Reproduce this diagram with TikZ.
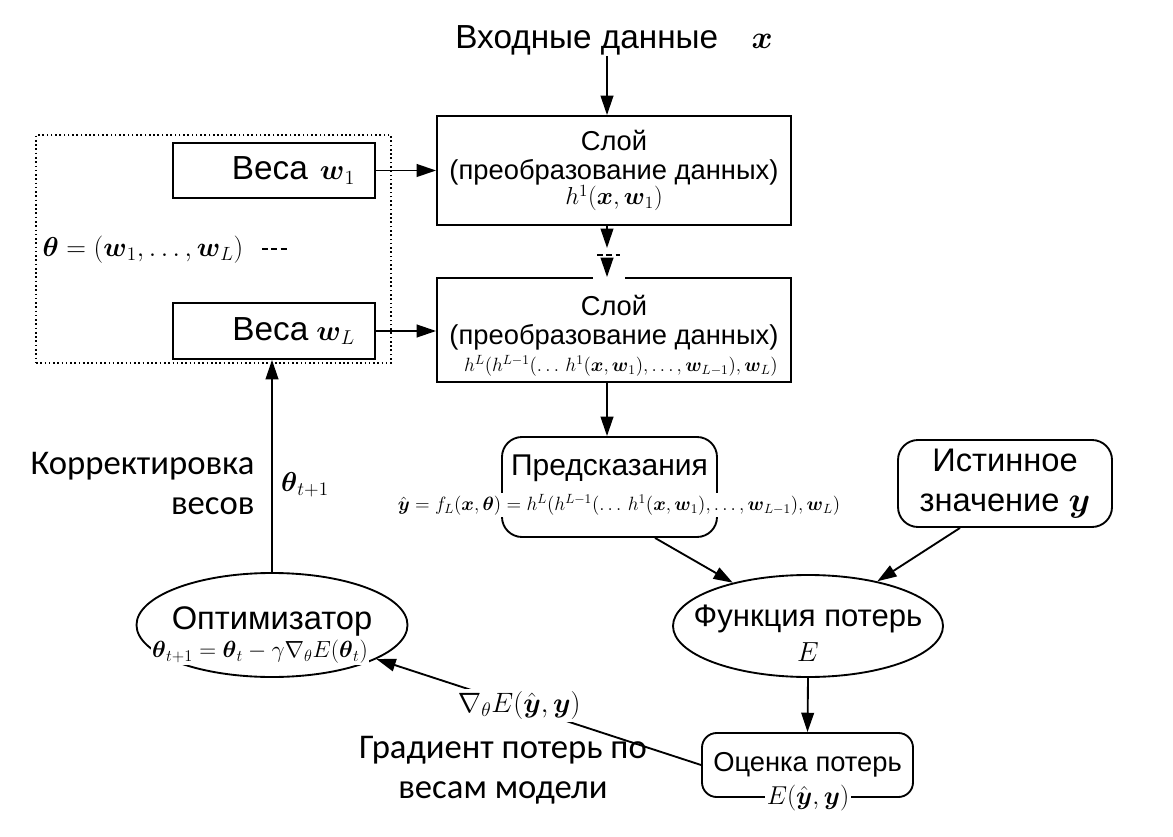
\RequirePackage{fix-cm}
\documentclass[tikz,border=0pt]{standalone}
\usepackage{amsmath}
\usepackage{fontspec}
\usetikzlibrary{arrows.meta,shapes.geometric,calc}
\newfontfamily\arialf{Liberation Sans}
\newfontfamily\calibf{Carlito}
\newcommand\bsy[1]{\boldsymbol{#1}}
\begin{document}
\begin{tikzpicture}[x=0.75pt,y=-0.75pt,
  arr/.style={line width=1.4pt,-{Triangle[length=14.5pt,width=9.5pt]}},
  box/.style={draw,line width=1.4pt,inner sep=0pt},
  rbox/.style={draw,line width=1.4pt,inner sep=0pt,rounded corners=15pt},
  ell/.style={draw,ellipse,line width=1.4pt,inner sep=0pt},
  txt/.style={inner sep=1pt},
  big/.style={font=\arialf\fontsize{25}{30}\selectfont},
  wts/.style={font=\arialf\fontsize{25}{30}\selectfont},
  mid/.style={font=\arialf\fontsize{20.5}{22}\selectfont},
  med/.style={font=\arialf\fontsize{24.5}{30}\selectfont},
  cal/.style={font=\calibf\fontsize{26}{30}\selectfont},
  fml/.style={font=\fontsize{14.4}{16}\selectfont}
]
\useasboundingbox (0,0) rectangle (1173,837);
\fill[white] (0,0) rectangle (1173,837);

% input
\node[txt,big] (in) at (614,40) {Входные данные\quad{\fontsize{24}{26}\selectfont$\bsy{x}$}};

% layers
\node[box,mid,align=center,minimum width=354*0.75pt,minimum height=109*0.75pt] (l1) at (614,170.5)
  {Слой\\(преобразование данных)\\[-3pt]{\fontsize{18.4}{19}\selectfont$h^1(\bsy{x},\bsy{w}_1)$}};
\node[box,minimum width=354*0.75pt,minimum height=104*0.75pt] (l2) at (614,330) {};
\node[txt,mid,align=center] (l2t) at (614,323) {Слой\\(преобразование данных)};
\node[txt,fml] (l2f) at (621,366) {$h^L(h^{L-1}(\ldots\, h^1(\bsy{x},\bsy{w}_1),\ldots,\bsy{w}_{L-1}),\bsy{w}_L)$};

% weights
\node[draw,dotted,line width=1.2pt,minimum width=355*0.75pt,minimum height=228*0.75pt,inner sep=0pt] (grp) at (213.5,249) {};
\node[box,wts,minimum width=202*0.75pt,minimum height=55*0.75pt,text width=121.5pt,align=right] (w1) at (274,170.5) {Веса\hspace{9pt}{\fontsize{21.5}{22}\selectfont$\bsy{w}_1$}};
\node[box,wts,minimum width=202*0.75pt,minimum height=56*0.75pt,text width=121.5pt,align=right] (wL) at (274,331) {Веса\hspace{6pt}{\fontsize{21.5}{22}\selectfont$\bsy{w}_L$}};
\node[txt,font=\fontsize{20.5}{22}\selectfont] (theta) at (143,250) {$\bsy{\theta}=(\bsy{w}_1,\ldots,\bsy{w}_L)$};
\coordinate (d1) at (262,249);
\coordinate (d2) at (290,249);
\draw[line width=1pt,dash pattern=on 4.5pt off 2.5pt] (d1) -- (d2);

% predictions
\node[rbox,rounded corners=15pt,minimum width=215*0.75pt,minimum height=100*0.75pt] (pred) at (609.5,487) {};
\node[txt,font=\arialf\fontsize{22.5}{30}\selectfont] (predt) at (609.5,468) {Предсказания};
\node[txt,fml,fill=white] (predf) at (619,505) {$\hat{\bsy{y}}=f_L(\bsy{x},\bsy{\theta})=h^L(h^{L-1}(\ldots\, h^1(\bsy{x},\bsy{w}_1),\ldots,\bsy{w}_{L-1}),\bsy{w}_L)$};

% true value
\node[rbox,med,align=center,minimum width=214*0.75pt,minimum height=87*0.75pt] (true) at (1005,483.5) {Истинное\\значение {\fontsize{26}{28}\selectfont$\bsy{y}$}};

% loss function
\node[ell,minimum width=270*0.75pt,minimum height=102*0.75pt] (loss) at (808,626) {};
\node[txt,font=\arialf\fontsize{23.3}{28}\selectfont] (losst) at (808,619) {Функция потерь};
\node[txt,font=\fontsize{20.7}{22}\selectfont] (lossE) at (808,652) {$E$};

% evaluation
\node[rbox,rounded corners=11pt,font=\arialf\fontsize{20.5}{22}\selectfont,minimum width=211*0.75pt,minimum height=64*0.75pt] (eval) at (807.5,765) {Оценка потерь};
\node[txt,font=\fontsize{19.4}{21}\selectfont,fill=white] (evalf) at (808,798) {$E(\hat{\bsy{y}},\bsy{y})$};

% optimizer
\node[ell,minimum width=271*0.75pt,minimum height=104*0.75pt] (opt) at (272,625) {};
\node[txt,med] (optt) at (272,621) {Оптимизатор};
\node[txt,font=\fontsize{17.5}{19}\selectfont,fill=white] (optf) at (260,652) {$\bsy{\theta}_{t+1}=\bsy{\theta}_t-\gamma\nabla_{\theta}E(\bsy{\theta}_t)$};

% side texts
\node[txt,cal,align=right,anchor=east] (korr) at (256,483) {Корректировка\\весов};
\node[txt,font=\fontsize{20.5}{22}\selectfont] (thn) at (305,485) {$\bsy{\theta}_{t+1}$};
\node[txt,cal,align=center] (grad) at (503,770) {Градиент потерь по\\весам модели};

% connectors
\coordinate (cx) at (607,0);
\coordinate (c655) at (655,0);
\coordinate (c960) at (960,0);
\coordinate (m1) at (607,248);
\coordinate (m2) at (607,260);
\draw[arr] (in.south -| cx) -- (l1.north -| cx);
\draw[arr] (l1.south -| cx) -- (m1);
\draw[line width=1pt,dash pattern=on 4.5pt off 2.5pt] (597,255) -- (620,255);
\draw[white,line width=3pt] ($(l2.north -| cx)+(-14,0)$) -- ++(32,0);
\draw[arr] (m2) -- (l2.north -| cx);
\draw[arr] (l2.south -| cx) -- (pred.north -| cx);
\draw[arr] (w1.east) -- (l1.west |- w1.east);
\draw[arr] (wL.east) -- (l2.west |- wL.east);
\draw[arr] (pred.south -| c655) -- (loss);
\draw[arr] (true.south -| c960) -- (loss);
\draw[arr] (loss.south) -- (eval.north);
\draw[arr] (eval.west) -- (opt) node[pos=0.56,fill=white,inner sep=2pt,font=\fontsize{21}{23}\selectfont] (gradf) {$\nabla_{\theta}E(\hat{\bsy{y}},\bsy{y})$};
\draw[arr] (opt.north) -- (opt.north |- wL.south);
\end{tikzpicture}
\end{document}
